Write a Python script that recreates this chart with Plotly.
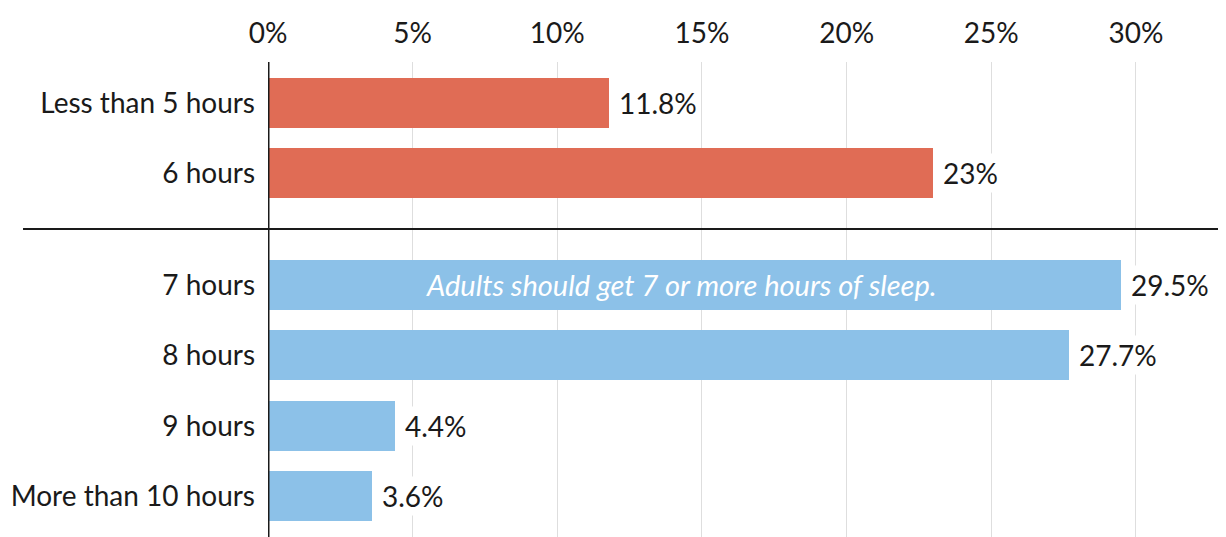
import plotly.graph_objects as go

categories = ["Less than 5 hours", "6 hours", "7 hours", "8 hours", "9 hours", "More than 10 hours"]
values = [11.8, 23, 29.5, 27.7, 4.4, 3.6]
labels = ["11.8%", "23%", "29.5%", "27.7%", "4.4%", "3.6%"]
groups = ["short", "short", "ok", "ok", "ok", "ok"]
tick_vals_x = [0, 5, 10, 15, 20, 25, 30]
tick_text_x = ["0%", "5%", "10%", "15%", "20%", "25%", "30%"]
note = "Adults should get 7 or more hours of sleep."

colors = {"short": "#E06C55", "ok": "#8CC1E8"}
GAP = 0.58
ypos = [i + (GAP if g == "ok" else 0) for i, g in enumerate(groups)]

FONT = "Lato"
TXT = "#1A1A1A"
fig = go.Figure()
fig.add_trace(go.Bar(
    x=values, y=ypos, orientation="h", width=0.71,
    marker=dict(color=[colors[g] for g in groups], line=dict(width=0)),
    hoverinfo="skip", showlegend=False,
))

for v, y, t in zip(values, ypos, labels):
    fig.add_annotation(x=v, y=y, text=t, showarrow=False, xanchor="left",
                       xshift=7, font=dict(family=FONT, size=28, color=TXT),
                       bgcolor="white", borderpad=2)

ok_idx = groups.index("ok")
fig.add_annotation(x=values[ok_idx] / 2 - 0.45, y=ypos[ok_idx], text="<i>" + note + "</i>",
                   showarrow=False, font=dict(family=FONT, size=29, color="white"))

divider = (ypos[1] + ypos[2]) / 2
fig.add_shape(type="line", xref="paper", x0=-0.2536, x1=1, y0=divider, y1=divider,
              line=dict(color="#1A1A1A", width=2), layer="above")
fig.add_shape(type="line", x0=0, x1=0, yref="paper", y0=0, y1=1,
              line=dict(color="#1A1A1A", width=3), layer="above")

fig.update_layout(
    width=1226, height=537,
    margin=dict(l=260, r=0, t=54, b=0),
    paper_bgcolor="white", plot_bgcolor="white",
    bargap=0,
    xaxis=dict(side="top", range=[0, 33.39], tickvals=tick_vals_x, ticktext=tick_text_x,
               showgrid=True, gridcolor="#DEDEDE", gridwidth=1, zeroline=False,
               ticks="", ticklabelstandoff=12,
               tickfont=dict(family=FONT, size=28, color=TXT), showline=False),
    yaxis=dict(range=[ypos[-1] + 0.69, -0.58], tickvals=ypos, ticktext=categories,
               showgrid=False, zeroline=False, ticks="", ticklabelstandoff=12,
               tickfont=dict(family=FONT, size=28, color=TXT), showline=False),
)

fig.write_html("out.html")
